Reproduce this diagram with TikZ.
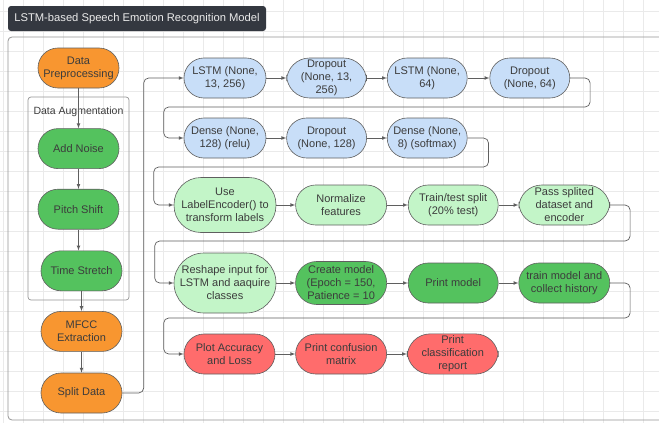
\documentclass[tikz,border=0pt]{standalone}
\usepackage{fontspec}
\setmainfont{Liberation Sans}
\usepackage{tikz}
\usetikzlibrary{shapes,arrows,positioning,fit,backgrounds}
\definecolor{ltblue}{RGB}{200, 222, 248}
\definecolor{ltgreen}{RGB}{195, 245, 200}
\definecolor{dkgreen}{RGB}{84, 194, 94}
\definecolor{dataorange}{RGB}{248, 150, 48}
\definecolor{evalred}{RGB}{255, 108, 108}
\definecolor{titlebg}{RGB}{52, 56, 64}
\definecolor{edgegray}{RGB}{95, 95, 95}
\definecolor{txtgray}{RGB}{60, 60, 60}
\definecolor{gridgray}{RGB}{234, 234, 234}
\definecolor{framegray}{RGB}{150, 150, 150}
\tikzstyle{flow} = [rectangle, rounded corners=20pt, draw=edgegray, line width=0.6pt, text=txtgray, align=center, font=\fontsize{11}{13}\selectfont, inner sep=2pt, minimum height=40pt]
\tikzstyle{layer} = [flow, fill=ltblue, minimum width=80pt]
\tikzstyle{prepop} = [flow, fill=ltgreen, minimum width=91pt]
\tikzstyle{trainop} = [flow, fill=dkgreen, minimum width=91pt]
\tikzstyle{evalop} = [flow, fill=evalred, minimum width=91pt]
\tikzstyle{dataop} = [flow, fill=dataorange, minimum width=81pt]
\tikzstyle{augop} = [flow, fill=dkgreen, minimum width=81pt]
\tikzstyle{augbox} = [draw=framegray, line width=0.7pt, rounded corners=3pt]
\tikzstyle{framebox} = [draw=framegray, line width=0.8pt, rounded corners=4pt]
\tikzstyle{gridline} = [draw=gridgray, line width=0.6pt]
\tikzstyle{tedge}  = [draw=edgegray, line width=0.7pt, >=latex, ->, rounded corners=5pt]

\begin{document}
\begin{tikzpicture}[x=1pt, y=-1pt]

\clip (0,0) rectangle (659,423);
\fill[white] (0,0) rectangle (659,423);

% canvas grid
\foreach \gx in {3,23,...,663} \draw[gridline] (\gx,0) -- (\gx,423);
\foreach \gy in {11,31,...,431} \draw[gridline] (0,\gy) -- (659,\gy);

% frame and title
\draw[framebox] (8,37) rectangle (700,420);
\node[rectangle, rounded corners=3pt, fill=titlebg, text={rgb,255:red,235;green,235;blue,235}, minimum width=258pt, minimum height=25pt, font=\fontsize{11.2}{13}\selectfont] (title) at (137,18.5) {LSTM-based Speech Emotion Recognition Model};

% preprocessing column =====================
\draw[augbox] (28,97) rectangle (129,300);
\node[text=txtgray, font=\fontsize{10.5}{12}\selectfont] (auglbl) at (78.5,112) {Data Augmentation};

\node[dataop] (prep) at (78.5,68) {Data\\Preprocessing};
\node[augop, below=40pt of prep] (noise) {Add Noise};
\node[augop, below=20pt of noise] (pitch) {Pitch Shift};
\node[augop, below=21pt of pitch, xshift=3pt] (stretch) {Time Stretch};
\node[dataop, below=20pt of stretch] (mfcc) {MFCC\\Extraction};
\node[dataop, below=21pt of mfcc] (split) {Split Data};

% model layers
\node[layer, minimum width=82pt] (lstm1) at (225,78) {LSTM (None,\\13, 256)};
\node[layer, rounded corners=23pt, right=20pt of lstm1] (drop1) {Dropout\\(None, 13,\\256)};
\node[layer, right=20pt of drop1] (lstm2) {LSTM (None,\\64)};
\node[layer, right=22pt of lstm2] (drop2) {Dropout\\(None, 64)};

\node[layer, minimum width=82pt] (dense1) at (225,138) {Dense (None,\\128) (relu)};
\node[layer, right=20pt of dense1] (drop3) {Dropout\\(None, 128)};
\node[layer, right=20pt of drop3] (dense2) {Dense (None,\\8) (softmax)};

% label and data handling
\node[prepop, minimum width=102pt, minimum height=55pt, rounded corners=27pt] (encode) at (225,205) {Use\\LabelEncoder() to\\transform labels};
\node[prepop, right=19pt of encode] (norm) {Normalize\\features};
\node[prepop, minimum width=90pt, right=21pt of norm] (ttsplit) {Train/test split\\(20\% test)};
\node[prepop, rounded corners=23pt, right=20pt of ttsplit] (pass) {Pass splited\\dataset and\\encoder};

% training
\node[prepop, minimum width=102pt, minimum height=60pt, rounded corners=30pt] (reshape) at (225,283) {Reshape input for\\LSTM and aaquire\\classes};
\node[trainop, minimum height=43pt, rounded corners=21pt, right=19pt of reshape] (create) {Create model\\(Epoch = 150,\\Patience = 10};
\node[trainop, minimum width=90pt, right=21pt of create] (printm) {Print model};
\node[trainop, right=20pt of printm] (trainm) {train model and\\collect history};

% evaluation
\node[evalop] (plot) at (229.5,354) {Plot Accuracy\\and Loss};
\node[evalop, right=20pt of plot] (conf) {Print confusion\\matrix};
\node[evalop, rounded corners=23pt, right=20pt of conf] (report) {Print\\classification\\report};

%edges
\path[tedge] (prep) -- (noise);
\path[tedge] (noise) -- (pitch);
\path[tedge] (pitch) -- (pitch |- stretch.north);
\path[tedge] (stretch) -- (mfcc);
\path[tedge] (mfcc) -- (split);
\path[tedge] (split.east) -| ([xshift=-40pt]lstm1.west) -- (lstm1.west);

\path[tedge] (lstm1) -- (drop1);
\path[tedge] (drop1) -- (lstm2);
\path[tedge] (lstm2) -- (drop2);
\path[tedge] (drop2.east) -- ++(20,0) -- ++(0,29) -| ([xshift=-20pt]dense1.west) -- (dense1.west);

\path[tedge] (dense1) -- (drop3);
\path[tedge] (drop3) -- (dense2);
\path[tedge] (dense2.east) -- ++(21,0) -- ++(0,29) -| ([xshift=-20pt]encode.west) -- (encode.west);

\path[tedge] (encode) -- (norm);
\path[tedge] (norm) -- (ttsplit);
\path[tedge] (ttsplit) -- (pass);
\path[tedge] (pass.east) -- ++(20,0) -- ++(0,36) -| ([xshift=-19pt]reshape.west) -- (reshape.west);

\path[tedge] (reshape) -- (create);
\path[tedge] (create) -- (printm);
\path[tedge] (printm) -- (trainm);
\path[tedge] (trainm.east) -- ++(20,0) -- ++(0,35) -| ([xshift=-20pt]plot.west) -- (plot.west);

\path[tedge] (plot) -- (conf);
\path[tedge] (conf) -- (report);

\end{tikzpicture}
\end{document}
